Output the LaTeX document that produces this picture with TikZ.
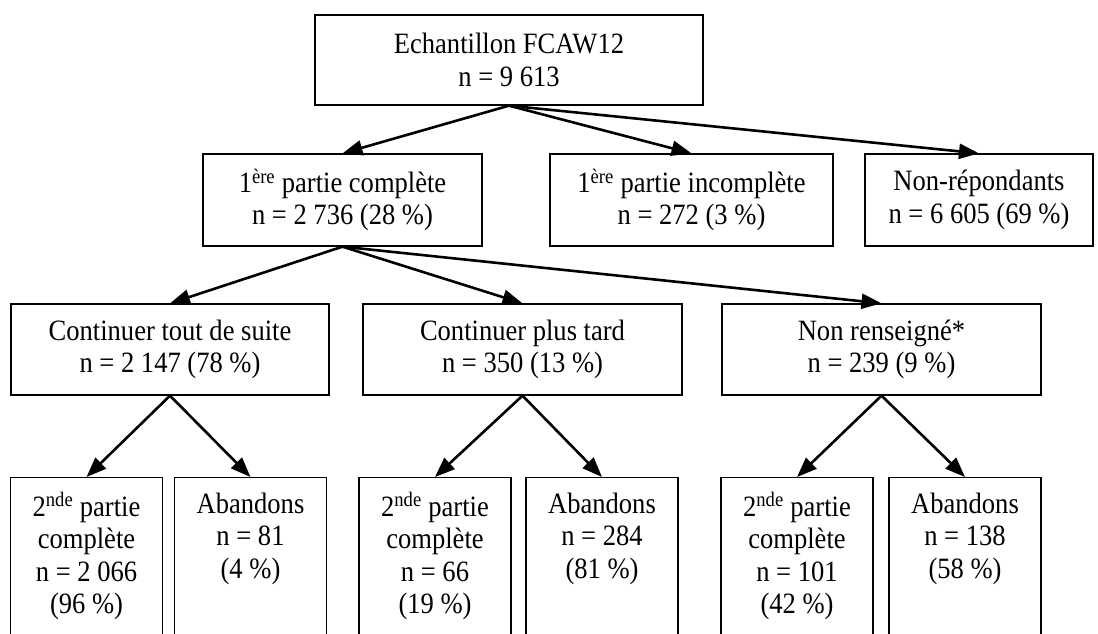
\documentclass[tikz,border=0pt]{standalone}
\usepackage{fontspec}
\setmainfont[FakeStretch=0.9]{Liberation Serif}
\usetikzlibrary{arrows.meta}

\begin{document}
\begin{tikzpicture}[x=1pt,y=-1pt,>={Triangle[length=20pt,width=15pt]},
    box/.style={draw,line width=1.3pt,inner sep=0pt,align=center,font=\fontsize{29.5}{32.5}\selectfont},
    leaf/.style={box,minimum width=152pt,anchor=north,inner ysep=15pt,text depth=80pt},
    link/.style={->,line width=2.6pt}]

  \useasboundingbox (0,0) rectangle (1098,633);
  \clip (0,0) rectangle (1098,633);

  \node[box,minimum width=388pt,minimum height=90pt] (ech) at (509,60) {Echantillon FCAW12\\n = 9~613};

  % premiere partie
  \node[box,minimum width=279pt,minimum height=92pt] (p1c) at (342.5,200) {1\textsuperscript{ère} partie complète\\n = 2~736 (28~\%)};
  \node[box,minimum width=283pt,minimum height=92pt] (p1i) at (691.5,200) {1\textsuperscript{ère} partie incomplète\\n = 272 (3~\%)};
  \node[box,minimum width=228pt,minimum height=92pt] (nrep) at (979,200) {Non-répondants\\n = 6~605 (69~\%)};

  % suite
  \node[box,minimum width=318pt,minimum height=91pt] (tds) at (170,349.5) {Continuer tout de suite\\n = 2~147 (78~\%)};
  \node[box,minimum width=319pt,minimum height=91pt] (tard) at (522.5,349.5) {Continuer plus tard\\n = 350 (13~\%)};
  \node[box,minimum width=319pt,minimum height=91pt] (nren) at (881.5,349.5) {Non renseigné*\\n = 239 (9~\%)};

  % seconde partie
  \node[leaf] (tdsc) at (86.5,477) {2\textsuperscript{nde} partie\\complète\\n = 2~066\\(96~\%)};
  \node[leaf] (tdsa) at (250.5,477) {Abandons\\n = 81\\(4~\%)};
  \node[leaf] (tardc) at (435,477) {2\textsuperscript{nde} partie\\complète\\n = 66\\(19~\%)};
  \node[leaf] (tarda) at (602,477) {Abandons\\n = 284\\(81~\%)};
  \node[leaf] (nrenc) at (797,477) {2\textsuperscript{nde} partie\\complète\\n = 101\\(42~\%)};
  \node[leaf] (nrena) at (965,477) {Abandons\\n = 138\\(58~\%)};

  \draw[link] (ech.south) -- (p1c.north);
  \draw[link] (ech.south) -- (p1i.north);
  \draw[link] (ech.south) -- (nrep.north);

  \draw[link] (p1c.south) -- (tds.north);
  \draw[link] (p1c.south) -- (tard.north);
  \draw[link] (p1c.south) -- (nren.north);

  \draw[link] (tds.south) -- (tdsc.north);
  \draw[link] (tds.south) -- (tdsa.north);
  \draw[link] (tard.south) -- (tardc.north);
  \draw[link] (tard.south) -- (tarda.north);
  \draw[link] (nren.south) -- (nrenc.north);
  \draw[link] (nren.south) -- (nrena.north);
\end{tikzpicture}
\end{document}
